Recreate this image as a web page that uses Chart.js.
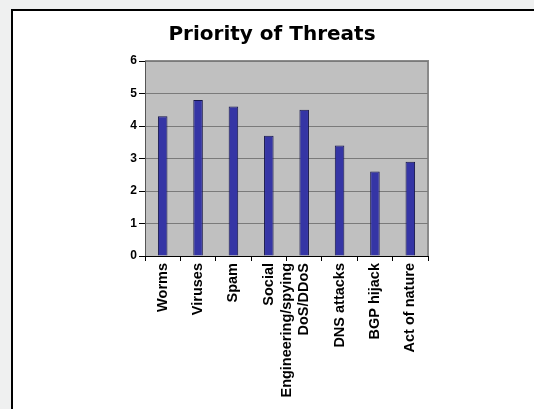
<!DOCTYPE html>
<html>
<head>
<meta charset="utf-8">
<script src="https://cdn.jsdelivr.net/npm/chart.js@4/dist/chart.umd.min.js"></script>
<style>
  html, body { margin: 0; padding: 0; }
  body { width: 534px; height: 409px; background: #eff0f0; position: relative; overflow: hidden; }
  #frame { position: absolute; left: 11px; top: 9px; width: 600px; height: 500px;
           border-left: 2px solid #000; border-top: 2px solid #000; background: #fff; }
  #wrap { position: absolute; left: 0; top: 0; width: 534px; height: 409px; }
</style>
</head>
<body>
<div id="frame"></div>
<div id="wrap"><canvas id="threatChart" width="534" height="409"></canvas></div>
<script>
// === Data ===
const categories = [
  "Worms", "Viruses", "Spam", ["Social", "Engineering/spying"],
  "DoS/DDoS", "DNS attacks", "BGP hijack", "Act of nature"
];
const priorities = [4.3, 4.8, 4.6, 3.7, 4.5, 3.4, 2.6, 2.9];
const yTicks = [0, 1, 2, 3, 4, 5, 6];

// === Plot background (gray wall) ===
const plotWall = {
  id: "plotWall",
  beforeDraw(chart) {
    const { ctx, chartArea: a } = chart;
    ctx.save();
    ctx.fillStyle = "#c0c0c0";
    ctx.fillRect(a.left, a.top, a.right - a.left, a.bottom - a.top);
    ctx.strokeStyle = "#8a8a8a";
    ctx.lineWidth = 2;
    ctx.beginPath();
    ctx.moveTo(a.left, a.top);
    ctx.lineTo(a.right, a.top);
    ctx.lineTo(a.right, a.bottom);
    ctx.stroke();
    ctx.restore();
  }
};

const ctx = document.getElementById("threatChart").getContext("2d");
new Chart(ctx, {
  type: "bar",
  data: {
    labels: categories,
    datasets: [{
      data: priorities,
      backgroundColor: "#3535a5",
      borderColor: "#15154a",
      borderWidth: 1,
      barPercentage: 0.27,
      categoryPercentage: 1
    }]
  },
  options: {
    responsive: false,
    animation: false,
    layout: { padding: { left: 116, right: 106, top: 24, bottom: 0 } },
    plugins: {
      legend: { display: false },
      tooltip: { enabled: false },
      title: {
        display: true,
        text: "Priority of Threats",
        color: "#000",
        font: { family: "DejaVu Sans", size: 20, weight: "bold", lineHeight: 1.1 },
        padding: { top: 0, bottom: 15 }
      }
    },
    scales: {
      y: {
        min: 0, max: 6,
        afterFit: s => { s.width = 29; },
        afterBuildTicks: s => { s.ticks = yTicks.map(v => ({ value: v })); },
        grid: { color: "#7a7a7a", tickColor: "#000", tickLength: 6 },
        border: { color: "#555" },
        ticks: {
          padding: 2,
          color: "#000",
          font: { family: "Liberation Sans", size: 12, weight: "bold" }
        }
      },
      x: {
        afterFit: s => { s.height = 409 - 256; },
        grid: { drawOnChartArea: false, tickColor: "#000", tickLength: 5 },
        border: { color: "#000" },
        ticks: {
          maxRotation: 90, minRotation: 90,
          padding: 2,
          autoSkip: false,
          color: "#000",
          font: { family: "Liberation Sans", size: 14.5, weight: "bold", lineHeight: 1.25 }
        }
      }
    }
  },
  plugins: [plotWall]
});
</script>
</body>
</html>
